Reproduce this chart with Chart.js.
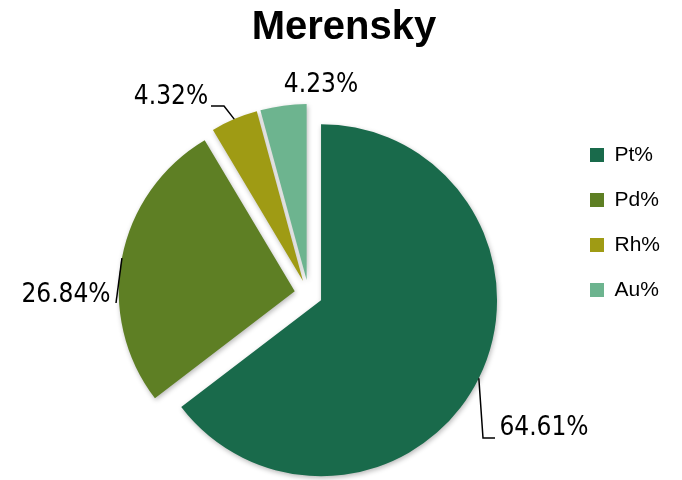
<!DOCTYPE html>
<html>
<head>
<meta charset="utf-8">
<script src="https://cdn.jsdelivr.net/npm/chart.js@4.4.1/dist/chart.umd.min.js"></script>
<style>
  html, body { margin: 0; padding: 0; background: #fff; }
  #wrap { width: 682px; height: 480px; }
</style>
</head>
<body>
<div id="wrap"><canvas id="merenskyChart" width="682" height="480"></canvas></div>
<script>
const chartTitle  = 'Merensky';
const elements    = ['Pt%', 'Pd%', 'Rh%', 'Au%'];
const shares      = [64.61, 26.84, 4.32, 4.23];
const sliceColors = ['#196a4b', '#5e7f24', '#9f9b14', '#6db48f'];

// where each value label sits (text centre) and the bends of its leader line
const labelSpots = [
    { x: 544, y: 428, elbow: [[483, 438], [495, 438]] },
    { x: 66,  y: 295, elbow: [[116, 303]] },
    { x: 171, y: 97,  elbow: [[224, 106], [211, 106]] },
    { x: 321, y: 85,  elbow: null }
];
const EXPLODE = 14;

// pull every slice outwards along its middle angle (offset option also grows the radius)
const explodePie = {
    id: 'explodePie',
    beforeDatasetDraw(chart, args) {
        const ctx = chart.ctx;
        args.meta.data.forEach(arc => {
            const mid = (arc.startAngle + arc.endAngle) / 2;
            ctx.save();
            ctx.shadowColor = 'rgba(0,0,0,0.28)';
            ctx.shadowBlur = 5;
            ctx.shadowOffsetX = 1;
            ctx.shadowOffsetY = 2;
            ctx.translate(Math.cos(mid) * EXPLODE, Math.sin(mid) * EXPLODE);
            arc.draw(ctx, chart.chartArea);
            ctx.restore();
        });
        return false;
    }
};

// value labels with leader lines + the title
const sliceLabels = {
    id: 'sliceLabels',
    afterDatasetsDraw(chart) {
        const ctx = chart.ctx;
        const arcs = chart.getDatasetMeta(0).data;
        ctx.save();
        ctx.fillStyle = '#000';
        ctx.strokeStyle = '#000';
        ctx.lineWidth = 1.5;
        ctx.font = '26px "DejaVu Sans Condensed", "DejaVu Sans", sans-serif';
        ctx.textAlign = 'center';
        ctx.textBaseline = 'middle';
        arcs.forEach((arc, i) => {
            const spot = labelSpots[i];
            const mid = (arc.startAngle + arc.endAngle) / 2;
            const r = arc.outerRadius + EXPLODE;
            if (spot.elbow) {
                ctx.beginPath();
                ctx.moveTo(arc.x + Math.cos(mid) * r, arc.y + Math.sin(mid) * r);
                spot.elbow.forEach(p => ctx.lineTo(p[0], p[1]));
                ctx.stroke();
            }
            ctx.fillText(shares[i].toFixed(2) + '%', spot.x, spot.y);
        });

        ctx.font = 'bold 40px "Liberation Sans", Arial, sans-serif';
        ctx.textBaseline = 'alphabetic';
        ctx.fillText(chartTitle, 344, 39);
        ctx.restore();
    }
};

new Chart(document.getElementById('merenskyChart'), {
    type: 'pie',
    data: {
        labels: elements,
        datasets: [{
            data: shares,
            backgroundColor: sliceColors,
            borderWidth: 0
        }]
    },
    options: {
        responsive: false,
        animation: false,
        radius: 176,
        layout: { padding: { top: 110, bottom: 2, left: 51, right: 12 } },
        plugins: {
            legend: {
                position: 'right',
                align: 'start',
                // empty title only used as a spacer above the items
                title: { display: true, text: '', padding: 0, font: { size: 10.5, lineHeight: 1 } },
                labels: {
                    color: '#000',
                    font: { family: '"Liberation Sans", Arial, sans-serif', size: 21 },
                    boxWidth: 14,
                    boxHeight: 14,
                    padding: 24
                }
            },
            tooltip: { enabled: false }
        }
    },
    plugins: [explodePie, sliceLabels]
});
</script>
</body>
</html>
